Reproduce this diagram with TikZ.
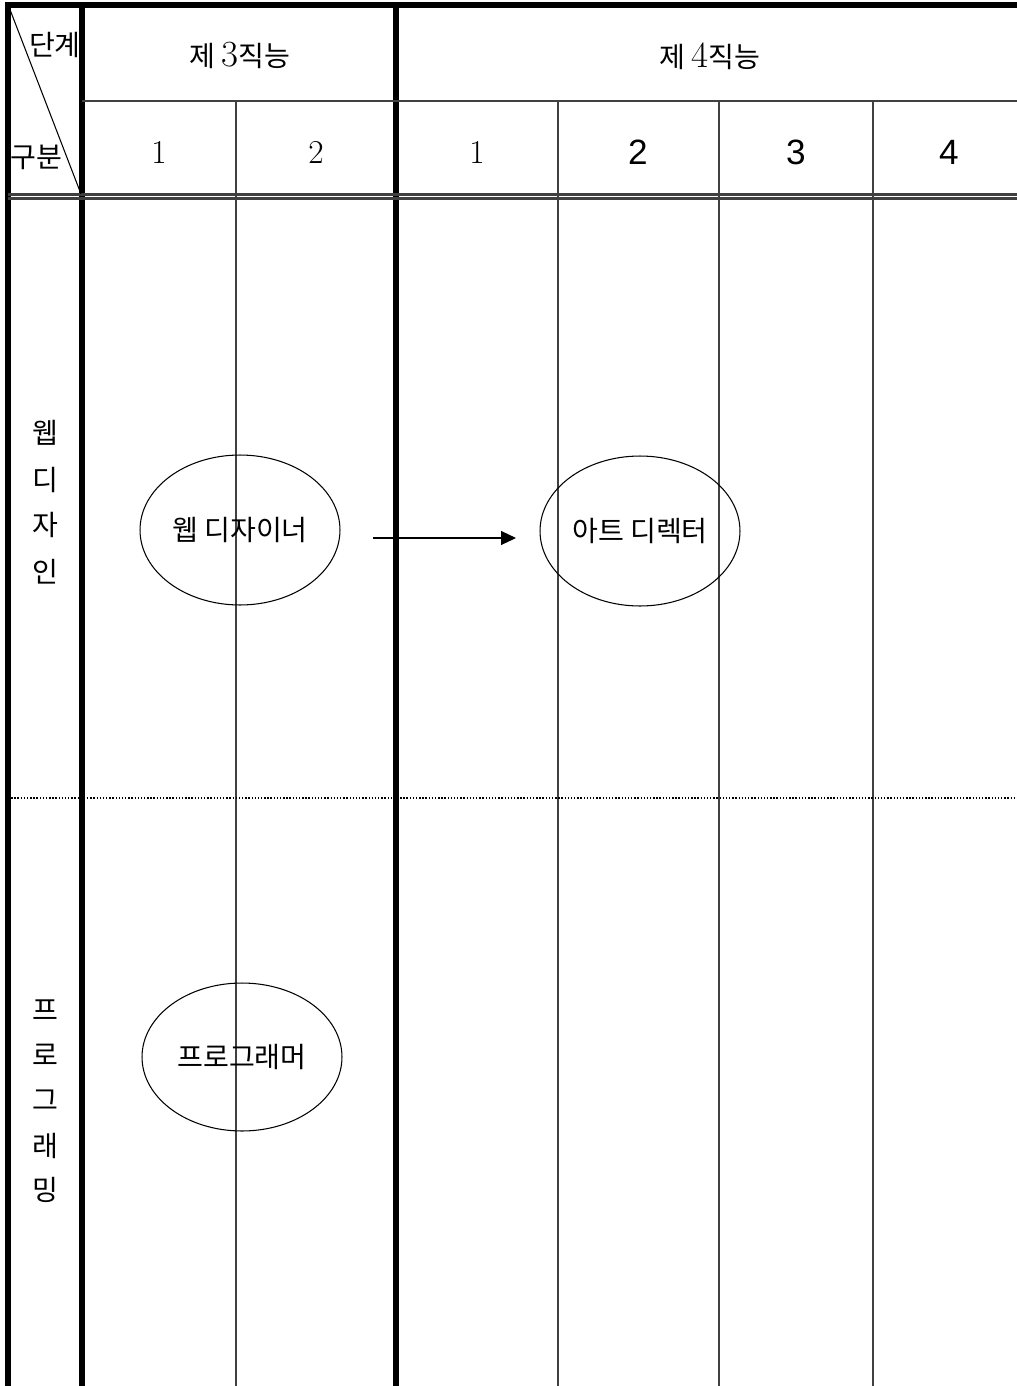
\documentclass[tikz,border=0pt]{standalone}
\usepackage{fontspec}
\newfontfamily\kr{Noto Sans CJK KR}
\newfontfamily\sfnum{Liberation Sans}
\usetikzlibrary{shapes.geometric,arrows.meta}
\tikzset{
  rand/.style={line width=3pt},
  dun/.style={line width=0.6pt, black!75},
  txt/.style={font=\fontsize{16}{18}\selectfont\kr, inner sep=0pt},
  num/.style={font=\fontsize{19}{21}\selectfont, inner sep=0pt},
  snum/.style={font=\fontsize{20}{22}\selectfont\sfnum, inner sep=0pt},
  ovaal/.style={draw, ellipse, line width=0.6pt, minimum width=4cm, minimum height=3cm, inner sep=0pt, font=\fontsize{16}{18}\selectfont\kr}
}
\newcommand{\cijfer}[1]{{\fontsize{21}{23}\selectfont\rmfamily #1}}
\begin{document}
\begin{tikzpicture}[x=0.02cm,y=-0.02cm]
    \useasboundingbox (0,0) rectangle (1017,1386);

    % Kader en kolommen
    \draw[rand] (8,1386) -- (8,5) -- (1017,5);
    \draw[rand] (82,5) -- (82,1386);
    \draw[rand] (396,5) -- (396,1386);
    \draw[dun] (82,101) -- (1017,101);
    \foreach \x in {236,558,719,873}
        \draw[dun] (\x,101) -- (\x,1386);

    % Dubbele lijn onder de kop
    \draw[line width=1.2pt, black!75] (8,194.5) -- (1017,194.5);
    \draw[line width=1.2pt, black!75] (8,198.5) -- (1017,198.5);

    % Stippellijn tussen de rijen
    \draw[densely dotted, line width=0.8pt] (8,798) -- (1017,798);

    % Hoekvak
    \draw[line width=0.6pt] (9,7) -- (81,194);
    \node[txt] (stap) at (55,45) {단계};
    \node[txt] (soort) at (36,157) {구분};

    % Kop
    \node[txt] (kop3) at (240,55) {제 \cijfer{3}직능};
    \node[txt] (kop4) at (710,56) {제 \cijfer{4}직능};
    \node[num] (n31) at (159,152) {1};
    \node[num] (n32) at (316,152) {2};
    \node[num] (n41) at (477,152) {1};
    \node[snum] (n42) at (638,152) {2};
    \node[snum] (n43) at (796,152) {3};
    \node[snum] (n44) at (949,152) {4};

    % Rijnamen
    \foreach \c/\y [count=\i] in {웹/433,디/480,자/525,인/572}
        \node[txt] (web\i) at (45,\y) {\c};
    \foreach \c/\y [count=\i] in {프/1010,로/1055,그/1100,래/1146,밍/1190}
        \node[txt] (prog\i) at (45,\y) {\c};

    % Functies
    \node[ovaal] (webdesigner) at (240,530) {웹 디자이너};
    \node[ovaal] (artdirector) at (640,531) {아트 디렉터};
    \node[ovaal, minimum height=2.96cm] (programmeur) at (242,1057) {프로그래머};

    % Doorgroei
    \coordinate (pijlA) at (373,538);
    \coordinate (pijlB) at (516,538);
    \draw[-{Triangle[length=0.3cm,width=0.28cm]}, line width=0.6pt] (pijlA) -- (pijlB);
\end{tikzpicture}
\end{document}
